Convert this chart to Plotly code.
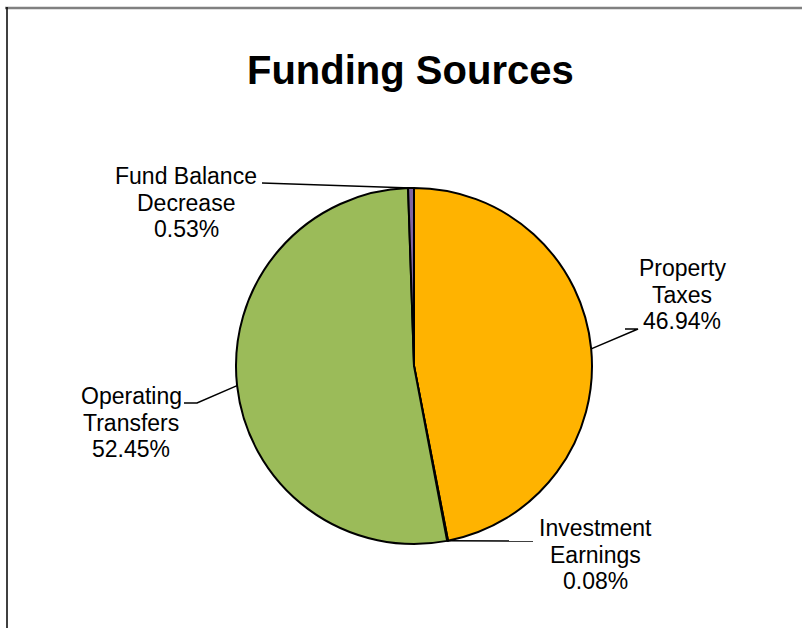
import math
import plotly.graph_objects as go

# Funding sources (share of total, %)
categories = ["Property Taxes", "Investment Earnings", "Operating Transfers", "Fund Balance Decrease"]
shares = [46.94, 0.08, 52.45, 0.53]
label_lines = [["Property", "Taxes"], ["Investment", "Earnings"], ["Operating", "Transfers"], ["Fund Balance", "Decrease"]]
slice_colors = ["#FFB300", "#4F81BD", "#9BBB59", "#8064A2"]

W, H = 802, 628
CX, CY, R = 414, 366, 178          # pie centre / radius in pixels
FONT = "Liberation Sans, Arial, sans-serif"
LINE_H = 26.7

# label block placement (centre x, y of first text line) and leader elbow
label_pos = [(682, 268), (595, 528), (131, 396), (186, 176)]
elbows = [[(638, 329), (625, 329)], [(533, 541)], [(197, 403), (184, 403)], [(262, 183)]]


def px(x):
    return x / W


def py(y):
    return 1 - y / H


fig = go.Figure()
fig.add_trace(go.Pie(
    labels=categories,
    values=shares,
    sort=False,
    direction="clockwise",
    rotation=0,
    textinfo="none",
    hoverinfo="label+percent",
    marker=dict(colors=slice_colors, line=dict(color="black", width=2)),
    domain=dict(x=[px(CX - R), px(CX + R)], y=[py(CY + R), py(CY - R)]),
    showlegend=False,
))

annotations = []
shapes = []
total = sum(shares)
cum = 0.0
for i, v in enumerate(shares):
    mid = (cum + v / 2) / total * 2 * math.pi
    cum += v
    ax = CX + R * math.sin(mid)
    ay = CY - R * math.cos(mid)
    pts = [(ax, ay)] + elbows[i]
    path = "M " + " L ".join(f"{px(x):.5f},{py(y):.5f}" for x, y in pts)
    shapes.append(dict(type="path", xref="paper", yref="paper", path=path,
                       line=dict(color="black", width=1.5)))
    lx, ly = label_pos[i]
    lines = label_lines[i] + [f"{v:.2f}%"]
    for k, t in enumerate(lines):
        annotations.append(dict(
            x=px(lx), y=py(ly + k * LINE_H), xref="paper", yref="paper",
            text=t, showarrow=False, xanchor="center", yanchor="middle",
            font=dict(family=FONT, size=23, color="black"),
        ))

annotations.append(dict(
    x=px(410), y=py(70), xref="paper", yref="paper", text="Funding Sources",
    showarrow=False, xanchor="center", yanchor="middle",
    font=dict(family=FONT, size=40, color="black", weight="bold"),
))

# chart frame edges
shapes.append(dict(type="line", xref="paper", yref="paper", x0=px(5), x1=1, y0=py(8), y1=py(8),
                   line=dict(color="#808080", width=2.5)))
shapes.append(dict(type="line", xref="paper", yref="paper", x0=px(7), x1=px(7), y0=py(7), y1=0,
                   line=dict(color="black", width=1.5)))

fig.update_layout(
    width=W, height=H,
    margin=dict(l=0, r=0, t=0, b=0),
    paper_bgcolor="white", plot_bgcolor="white",
    annotations=annotations, shapes=shapes,
)
fig.write_html("out.html")
